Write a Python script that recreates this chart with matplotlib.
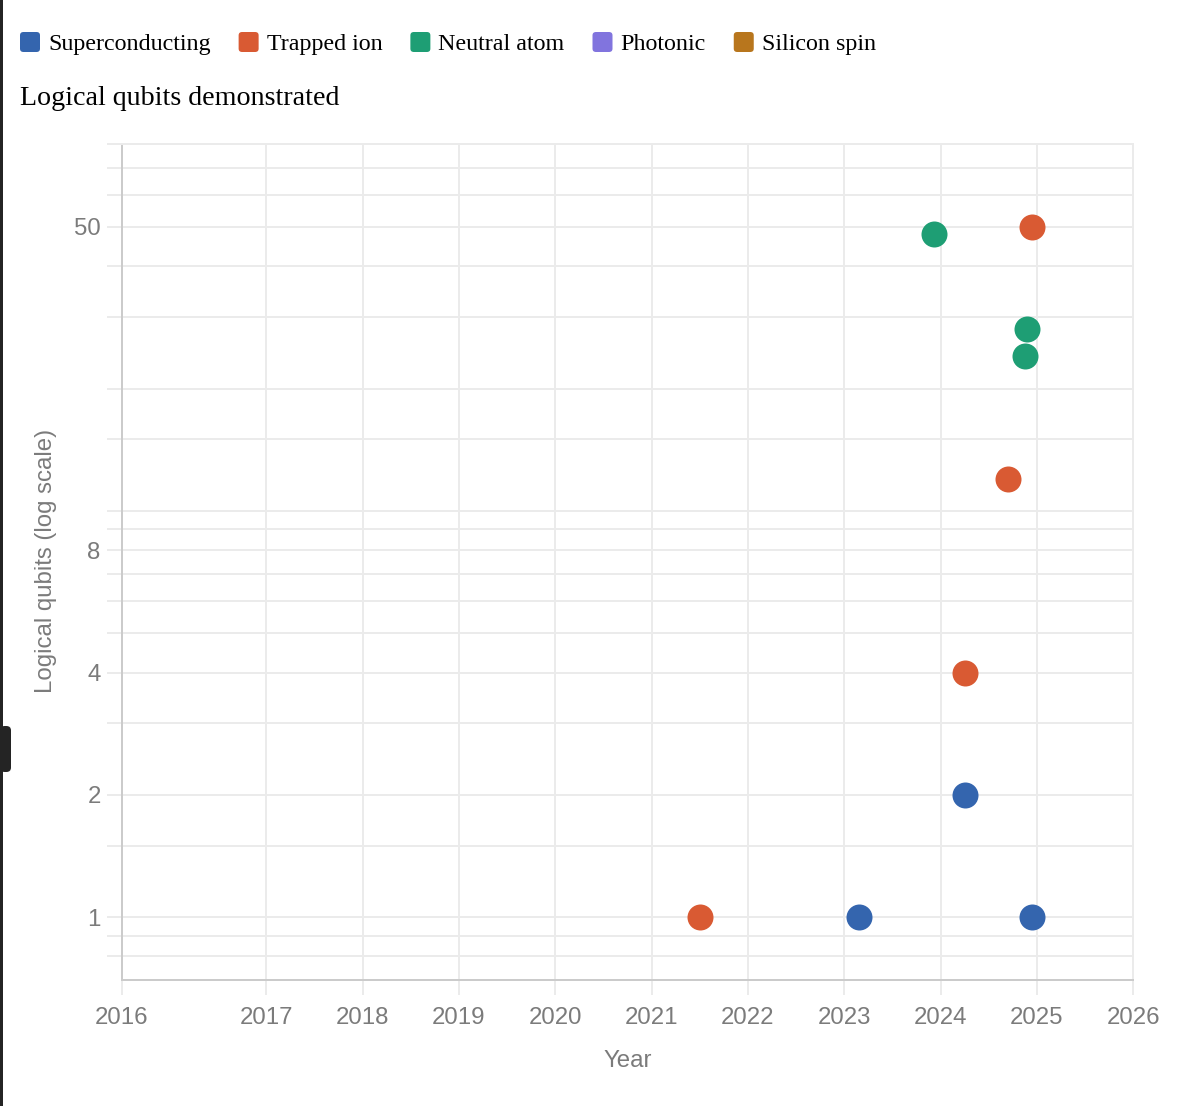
import matplotlib
matplotlib.use("Agg")
import matplotlib.pyplot as plt
from matplotlib.patches import FancyBboxPatch, Rectangle
from matplotlib.ticker import NullLocator, FixedLocator, FixedFormatter

# ---------------- data ----------------
series_names = ["Superconducting", "Trapped ion", "Neutral atom", "Photonic", "Silicon spin"]
series_colors = ["#3465ae", "#d95a33", "#1e9e74", "#8174de", "#b8761d"]

sc_years = [2023.15, 2024.25, 2024.95]
sc_qubits = [1, 2, 1]
ti_years = [2021.50, 2024.25, 2024.70, 2024.95]
ti_qubits = [1, 4, 12, 50]
na_years = [2023.93, 2024.90, 2024.88]
na_qubits = [48, 28, 24]
ph_years = []
ph_qubits = []
si_years = []
si_qubits = []

x_tick_pos = [2015.5, 2017, 2018, 2019, 2020, 2021, 2022, 2023, 2024, 2025, 2026]
x_tick_labels = ["2016", "2017", "2018", "2019", "2020", "2021", "2022", "2023", "2024", "2025", "2026"]
y_grid_values = [0.8, 0.9, 1, 1.5, 2, 3, 4, 5, 6, 7, 8, 9, 10, 15, 20, 30, 40, 50, 60, 70, 80]
y_labeled = [1, 2, 4, 8, 50]

title_text = "Logical qubits demonstrated"
x_title = "Year"
y_title = "Logical qubits (log scale)"

# ---------------- figure ----------------
W, H, DPI = 1178, 1106, 100
PX = 72.0 / DPI  # points per pixel
fig = plt.figure(figsize=(W / DPI, H / DPI), dpi=DPI, facecolor="white")

L, R, T, B = 121.7, 1133.3, 144.0, 980.0
ax = fig.add_axes([L / W, 1 - B / H, (R - L) / W, (B - T) / H])
ax.set_facecolor("white")

grid_c = "#ebebeb"
spine_c = "#cbcbcb"
text_c = "#7b7b7b"
sans = ["Liberation Sans", "DejaVu Sans"]
serif = ["Liberation Serif", "DejaVu Serif"]

series = [
    (sc_years, sc_qubits),
    (ti_years, ti_qubits),
    (na_years, na_qubits),
    (ph_years, ph_qubits),
    (si_years, si_qubits),
]
for (xs, ys), c in zip(series, series_colors):
    if len(xs):
        ax.scatter(xs, ys, s=(26 * PX) ** 2, color=c, linewidths=0, zorder=3, clip_on=False)

ax.set_yscale("log")
ax.set_xlim(2015.5, 2026)
ax.set_ylim(0.7, 80)

ax.yaxis.set_major_locator(FixedLocator(y_grid_values))
ax.yaxis.set_minor_locator(NullLocator())
ax.yaxis.set_major_formatter(FixedFormatter(
    [("%g" % v) if v in y_labeled else "" for v in y_grid_values]))
ax.xaxis.set_major_locator(FixedLocator(x_tick_pos))
ax.xaxis.set_minor_locator(NullLocator())
ax.xaxis.set_major_formatter(FixedFormatter(x_tick_labels))

ax.grid(True, which="major", color=grid_c, linewidth=2 * PX, zorder=0)
ax.set_axisbelow(True)
ax.tick_params(axis="both", which="major", length=15 * PX, width=2 * PX, color=grid_c,
               labelcolor=text_c, labelsize=24 * PX)
ax.tick_params(axis="y", pad=6 * PX)
ax.tick_params(axis="x", pad=12 * PX)
for lab in ax.get_xticklabels() + ax.get_yticklabels():
    lab.set_family(sans)

for side in ["left", "bottom"]:
    ax.spines[side].set_color(spine_c)
    ax.spines[side].set_linewidth(2 * PX)
for side in ["top", "right"]:
    ax.spines[side].set_color(grid_c)
    ax.spines[side].set_linewidth(2 * PX)

# axis titles
fig.text(46 / W, 1 - 561 / H, y_title, rotation=90, ha="center", va="center",
         color=text_c, fontsize=24 * PX, family=sans)
fig.text(628 / W, 1 - 1061 / H, x_title, ha="center", va="center",
         color=text_c, fontsize=24 * PX, family=sans)

# chart title
fig.text(20 / W, 1 - 105 / H, title_text, ha="left", va="baseline",
         color="black", fontsize=28 * PX, family=serif)

# legend (manual)
renderer = fig.canvas.get_renderer()
x = 20.0
for name, c in zip(series_names, series_colors):
    sq = FancyBboxPatch((x / W, 1 - 52 / H), 20 / W, 20 / H,
                        boxstyle="round,pad=0,rounding_size=0.003",
                        transform=fig.transFigure, facecolor=c, edgecolor="none")
    fig.patches.append(sq)
    t = fig.text((x + 28) / W, 1 - 50 / H, name, ha="left", va="baseline",
                 color="black", fontsize=24 * PX, family=serif)
    bb = t.get_window_extent(renderer=renderer)
    x = bb.x1 + 28

# page-edge artefacts
fig.patches.append(Rectangle((0, 0), 3 / W, 1, transform=fig.transFigure,
                             facecolor="#242424", edgecolor="none"))
fig.patches.append(FancyBboxPatch((0, 1 - 772 / H), 11 / W, 46 / H,
                                  boxstyle="round,pad=0,rounding_size=0.004",
                                  transform=fig.transFigure, facecolor="#242424",
                                  edgecolor="none"))

fig.savefig("out.png", dpi=DPI, facecolor="white")
